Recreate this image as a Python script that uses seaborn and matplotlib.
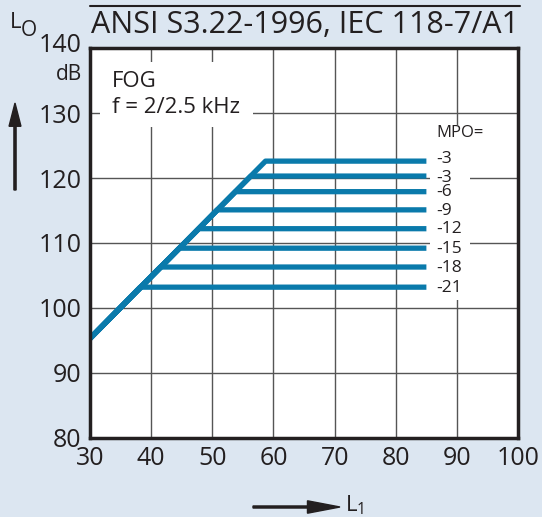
import matplotlib
matplotlib.use("Agg")
import matplotlib.pyplot as plt
from matplotlib.patches import Rectangle, FancyArrow
import seaborn as sns
import pandas as pd

# Input/output curves
start_x = 30
start_y = 95.3
end_x = 85
knee_x = [58.7, 56.3, 53.8, 50.8, 47.8, 44.6, 41.5, 38.2]
mpo_level = [122.6, 120.3, 117.9, 115.1, 112.2, 109.2, 106.3, 103.2]
mpo_labels = ["-3", "-3", "-6", "-9", "-12", "-15", "-18", "-21"]
x_ticks = [30, 40, 50, 60, 70, 80, 90, 100]
y_ticks = [80, 90, 100, 110, 120, 130, 140]

BG = "#dce6f1"
LINE = "#0a7aab"
INK = "#231f20"

rows = []
for i, (kx, lv) in enumerate(zip(knee_x, mpo_level)):
    rows.append({"curve": i, "L1": start_x, "LO": start_y})
    rows.append({"curve": i, "L1": kx, "LO": lv})
    rows.append({"curve": i, "L1": end_x, "LO": lv})
df = pd.DataFrame(rows)

sns.set_style("white")
plt.rcParams["font.family"] = ["Open Sans", "DejaVu Sans"]

fig = plt.figure(figsize=(5.42, 5.17), dpi=100, facecolor=BG)
ax = fig.add_axes([0.166, 0.153, 0.79, 0.754])
ax.set_facecolor("white")

sns.lineplot(data=df, x="L1", y="LO", hue="curve", units="curve", estimator=None,
             sort=False, palette=[LINE] * len(knee_x), legend=False,
             linewidth=3.8, ax=ax, zorder=5,
             solid_joinstyle="round", solid_capstyle="butt")

ax.set_xlim(30, 100)
ax.set_ylim(80, 140)
ax.set_xticks(x_ticks)
ax.set_yticks(y_ticks)
ax.set_yticklabels(["80", "90", "100", "110", "120", "130", ""])
ax.tick_params(length=0, labelsize=18, colors=INK, pad=6)
ax.grid(True, color="#555555", linewidth=1.0)
ax.set_xlabel("")
ax.set_ylabel("")
for s in ax.spines.values():
    s.set_color(INK)
    s.set_linewidth(2.5)
    s.set_zorder(10)

# white blocks behind the texts inside the plot
ax.add_patch(Rectangle((85.6, 101.3), 6.6, 26.9, facecolor="white",
                       edgecolor="none", zorder=3))
ax.add_patch(Rectangle((31.6, 127.8), 25.1, 10.0, facecolor="white",
                       edgecolor="none", zorder=3))

ax.text(86.6, 126.9, "MPO=", fontsize=12, color=INK, va="center", zorder=6)
for i, (lv, lab) in enumerate(zip(mpo_level, mpo_labels)):
    dy = 0.3 if i == 0 else (-0.3 if i == 1 else -0.1)
    ax.text(86.6, lv + dy, lab, fontsize=12.5, color=INK, va="center", zorder=6)

ax.text(33.6, 134.9, "FOG", fontsize=16, color=INK, va="center", zorder=6)
ax.text(33.6, 130.9, "f = 2/2.5 kHz", fontsize=16, color=INK, va="center", zorder=6)

# header
fig.lines.append(plt.Line2D([90 / 542, 520 / 542], [1 - 6 / 517, 1 - 6 / 517],
                            transform=fig.transFigure, color=INK, linewidth=1.5))
fig.text(519 / 542, 1 - 25 / 517, "ANSI S3.22-1996, IEC 118-7/A1", fontsize=22,
         color=INK, ha="right", va="center")
fig.text(82 / 542, 1 - 46 / 517, "140", fontsize=18, color=INK, ha="right", va="center")
fig.text(82 / 542, 1 - 75 / 517, "dB", fontsize=15, color=INK, ha="right", va="center")
fig.text(10 / 542, 1 - 23 / 517, "L", fontsize=16, color=INK, ha="left", va="center")
fig.text(21 / 542, 1 - 31 / 517, "O", fontsize=15, color=INK, ha="left", va="center")

# axis arrows
fig.add_artist(FancyArrow(15 / 542, 1 - 190 / 517, 0, 87 / 517,
               width=0.004, head_width=0.022, head_length=0.045, length_includes_head=True,
               color=INK, transform=fig.transFigure))
fig.add_artist(FancyArrow(253 / 542, 1 - 507 / 517, 87 / 542, 0,
               width=0.004, head_width=0.024, head_length=0.06, length_includes_head=True,
               color=INK, transform=fig.transFigure))
fig.text(345 / 542, 1 - 505 / 517, r"L$_{\mathregular{1}}$", fontsize=16, color=INK,
         ha="left", va="center")

fig.savefig("out.png", dpi=100, facecolor=BG)
